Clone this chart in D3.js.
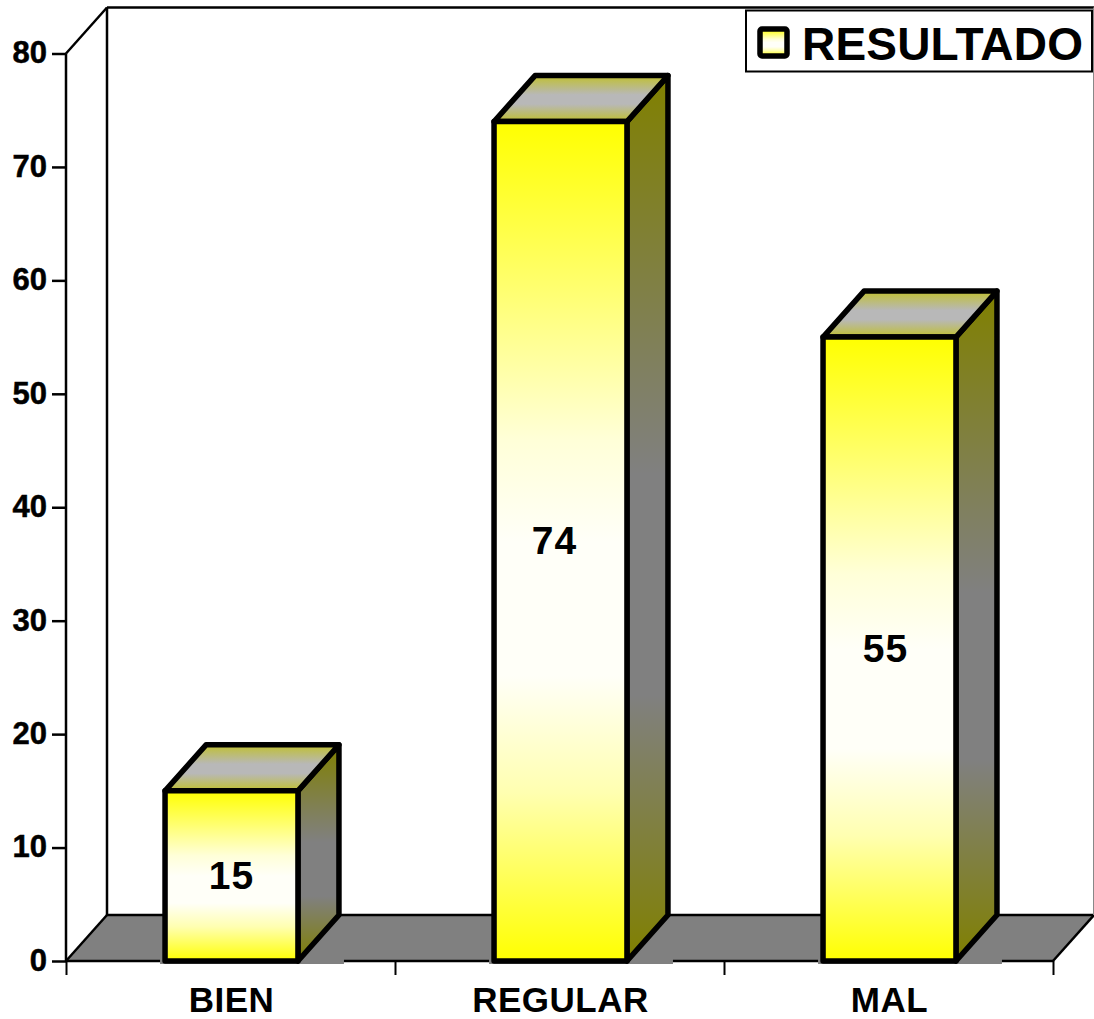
<!DOCTYPE html>
<html>
<head>
<meta charset="utf-8">
<script src="https://d3js.org/d3.v7.min.js"></script>
<style>
  body { margin: 0; background: #fff; }
  text { font-family: "Liberation Sans", Arial, sans-serif; font-weight: bold; fill: #000; }
</style>
</head>
<body>
<div id="chart"></div>
<script>
var categories = ["BIEN", "REGULAR", "MAL"];
var values = [15, 74, 55];
var yTicks = [0, 10, 20, 30, 40, 50, 60, 70, 80];
var seriesName = "RESULTADO";

var width = 1094, height = 1019;
var left = 66, right = 1053, top0 = 53.5, bottom = 961;
var depthX = 41, depthY = 46;
// the value labels sit a little left of centre on the taller bars
var labelNudge = [0, -6, -4];

var svg = d3.select("#chart").append("svg")
    .attr("width", width)
    .attr("height", height)
    .style("display", "block");

var y = d3.scaleLinear().domain([0, 80]).range([bottom, top0]);
var x = d3.scaleBand().domain(categories).range([left + 1, right + 1]).paddingInner(0.596).paddingOuter(0.298);
var slots = d3.scaleLinear().domain([0, categories.length]).range([left, right]);

// gradients
var defs = svg.append("defs");
function gradient(id, stops) {
    var g = defs.append("linearGradient").attr("id", id)
        .attr("x1", 0).attr("y1", 0).attr("x2", 0).attr("y2", 1);
    stops.forEach(function(s) {
        g.append("stop").attr("offset", s[0]).attr("stop-color", s[1]);
    });
}
gradient("front", [[0, "#ffff00"], [0.2, "#ffff70"], [0.38, "#ffffd8"], [0.5, "#fffff8"], [0.66, "#fffff8"], [0.8, "#ffffb0"], [1, "#ffff00"]]);
gradient("side", [[0, "#808000"], [0.33, "#808060"], [0.45, "#808080"], [0.7, "#808080"], [0.85, "#808040"], [1, "#808000"]]);
gradient("lid", [[0, "#c0c030"], [0.42, "#b8b8b8"], [0.62, "#b8b8b8"], [1, "#c0c030"]]);

// walls and floor
var floor = [[left, bottom], [left + depthX, bottom - depthY], [right + depthX, bottom - depthY], [right, bottom]];
svg.append("polygon")
    .attr("points", floor.join(" "))
    .attr("fill", "#808080");

function line(x1, y1, x2, y2, w, c) {
    svg.append("line")
        .attr("x1", x1).attr("y1", y1).attr("x2", x2).attr("y2", y2)
        .attr("stroke", c || "#000").attr("stroke-width", w || 2.5);
}
line(left, y(80), left, bottom);
line(left, y(80), left + depthX, y(80) - depthY);
line(left + depthX, y(80) - depthY, width, y(80) - depthY, 2.5);
line(left + depthX, y(80) - depthY, left + depthX, bottom - depthY);
line(left, bottom, left + depthX, bottom - depthY);
line(left + depthX, bottom - depthY, right + depthX, bottom - depthY);
line(left, bottom, right, bottom);
line(right, bottom, right + depthX, bottom - depthY);
line(right + depthX, y(80) - depthY, right + depthX, bottom - depthY, 2, "#888");

// axes
var yAxis = svg.append("g")
    .attr("transform", "translate(" + left + ",0)")
    .call(d3.axisLeft(y).tickValues(yTicks).tickSize(14).tickPadding(5));
yAxis.select(".domain").remove();
yAxis.selectAll("line").attr("stroke-width", 2.5).attr("stroke", "#000");
yAxis.selectAll("text").style("font-size", "31px").attr("dy", "0.3em")
    .style("stroke", "#000").style("stroke-width", 0.5);

var xTicks = svg.append("g")
    .attr("transform", "translate(0," + bottom + ")")
    .call(d3.axisBottom(slots).tickValues(d3.range(categories.length + 1)).tickSize(14).tickFormat(""));
xTicks.select(".domain").remove();
xTicks.selectAll("line").attr("stroke-width", 2).attr("stroke", "#000");

var xAxis = svg.append("g")
    .attr("transform", "translate(0," + bottom + ")")
    .call(d3.axisBottom(x).tickSize(0).tickPadding(0));
xAxis.select(".domain").remove();
xAxis.selectAll("text").style("font-size", "35px").attr("y", 50.5).attr("dy", 0)
    .style("letter-spacing", "0.5px");

// bars
var bars = svg.selectAll(".bar")
    .data(values)
    .enter()
    .append("g")
    .attr("class", "bar");

bars.each(function(d, i) {
    var g = d3.select(this);
    var x0 = x(categories[i]), x1 = x0 + x.bandwidth();
    var yt = y(d), yb = y(0);

    // patch of floor, the lines stop short of the bars in the original
    g.append("rect")
        .attr("x", x0 - 5)
        .attr("y", yb - depthY + 2)
        .attr("width", x1 - x0 + depthX + 10)
        .attr("height", depthY + 1)
        .attr("fill", "#808080");

    g.append("polygon")
        .attr("points", [[x1, yt], [x1 + depthX, yt - depthY], [x1 + depthX, yb - depthY], [x1, yb]].join(" "))
        .attr("fill", "url(#side)");
    g.append("polygon")
        .attr("points", [[x0, yt], [x0 + depthX, yt - depthY], [x1 + depthX, yt - depthY], [x1, yt]].join(" "))
        .attr("fill", "url(#lid)");
    g.append("rect")
        .attr("x", x0).attr("y", yt)
        .attr("width", x1 - x0).attr("height", yb - yt)
        .attr("fill", "url(#front)");
    g.selectAll("polygon, rect:not(:first-child)")
        .attr("stroke", "#000").attr("stroke-width", 5.5).attr("stroke-linejoin", "round");

    g.append("text")
        .attr("x", (x0 + x1) / 2 + labelNudge[i])
        .attr("y", (yt + yb) / 2 + 13)
        .attr("text-anchor", "middle")
        .style("font-size", "39px")
        .style("letter-spacing", "1px")
        .text(d);
});

// legend
var legend = svg.append("g");
legend.append("rect")
    .attr("x", 746).attr("y", 10.5).attr("width", 346).attr("height", 61)
    .attr("fill", "#fff").attr("stroke", "#000").attr("stroke-width", 2);
legend.append("rect")
    .attr("x", 760).attr("y", 29).attr("width", 27).attr("height", 27)
    .attr("rx", 2)
    .attr("fill", "url(#front)").attr("stroke", "#000").attr("stroke-width", 5.5);
legend.append("text")
    .attr("x", 802).attr("y", 60)
    .style("font-size", "46px")
    .style("letter-spacing", "0.2px")
    .text(seriesName);
</script>
</body>
</html>
